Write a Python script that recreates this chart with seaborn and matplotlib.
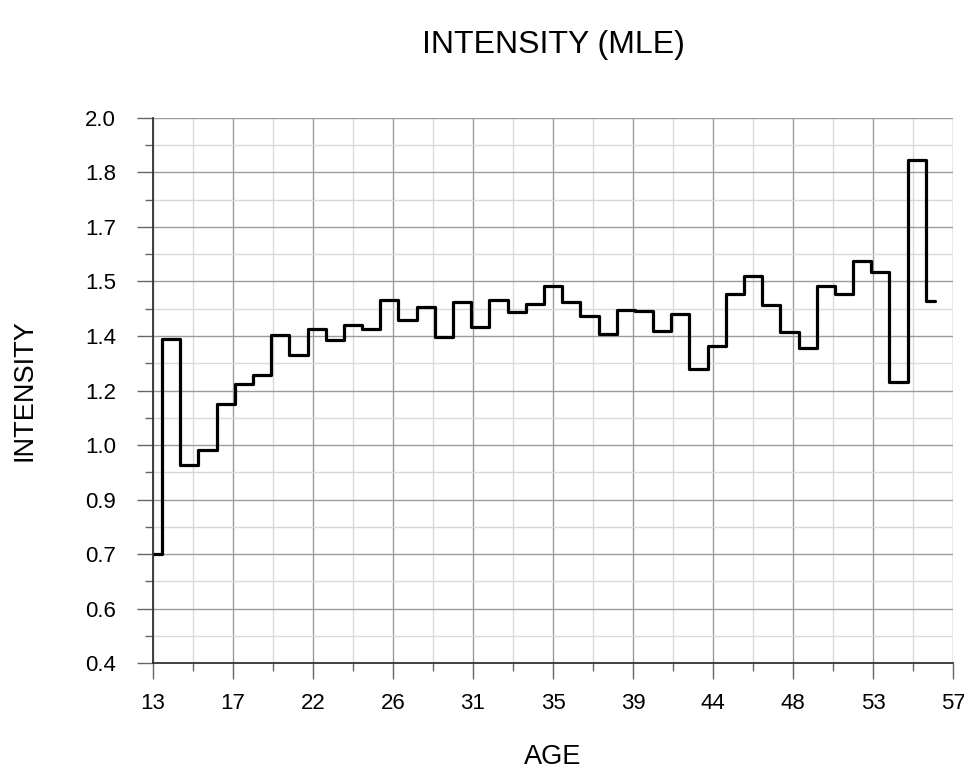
import numpy as np
import pandas as pd
import matplotlib
matplotlib.use("Agg")
import matplotlib.pyplot as plt
from matplotlib.ticker import FixedLocator, FixedFormatter
import seaborn as sns

# Age groups and estimated intensity (maximum likelihood)
ages = list(range(13, 57))
intensity = [
    0.72, 1.35, 0.98, 1.025, 1.16, 1.22, 1.245, 1.363, 1.304, 1.382,
    1.348, 1.391, 1.382, 1.467, 1.408, 1.446, 1.356, 1.459, 1.385, 1.465,
    1.431, 1.454, 1.508, 1.460, 1.419, 1.366, 1.436, 1.433, 1.374, 1.424,
    1.262, 1.331, 1.482, 1.536, 1.451, 1.373, 1.326, 1.508, 1.482, 1.580,
    1.548, 1.225, 1.876, 1.463,
]

x_tick_labels = ["13", "17", "22", "26", "31", "35", "39", "44", "48", "53", "57"]
y_tick_labels = ["0.4", "0.6", "0.7", "0.9", "1.0", "1.2", "1.4", "1.5", "1.7", "1.8", "2.0"]

df = pd.DataFrame({"AGE": ages, "INTENSITY": intensity})

sns.set_theme(style="white")
plt.rcParams["font.family"] = ["Liberation Sans", "DejaVu Sans"]
plt.rcParams["text.color"] = "black"
plt.rcParams["axes.labelcolor"] = "black"

fig = plt.figure(figsize=(9.64, 7.71), dpi=100)
ax = fig.add_axes([0.1587, 0.140, 0.830, 0.707])

sns.lineplot(data=df, x="AGE", y="INTENSITY", ax=ax, color="black",
             linewidth=2.3, drawstyle="steps-mid", estimator=None)

x_min, x_max = 13, 57
y_min, y_max = 0.4, 2.0
ax.set_xlim(x_min, x_max)
ax.set_ylim(y_min, y_max)

x_major = np.linspace(x_min, x_max, len(x_tick_labels))
y_major = np.linspace(y_min, y_max, len(y_tick_labels))
x_minor = (x_major[:-1] + x_major[1:]) / 2
y_minor = (y_major[:-1] + y_major[1:]) / 2

ax.xaxis.set_major_locator(FixedLocator(x_major))
ax.xaxis.set_major_formatter(FixedFormatter(x_tick_labels))
ax.yaxis.set_major_locator(FixedLocator(y_major))
ax.yaxis.set_major_formatter(FixedFormatter(y_tick_labels))
ax.xaxis.set_minor_locator(FixedLocator(x_minor))
ax.yaxis.set_minor_locator(FixedLocator(y_minor))

ax.grid(True, which="major", color="#9c9c9c", linewidth=1.0, zorder=0)
ax.grid(True, which="minor", color="#d9d9d9", linewidth=1.0, zorder=0)
ax.set_axisbelow(True)

for side in ("top", "right"):
    ax.spines[side].set_visible(False)
for side in ("left", "bottom"):
    ax.spines[side].set_color("#333333")
    ax.spines[side].set_linewidth(1.3)

ax.tick_params(which="major", direction="out", length=11.5, width=1.0,
               color="#666666", labelsize=16, labelcolor="black",
               bottom=True, left=True)
ax.tick_params(axis="x", which="major", pad=10)
ax.tick_params(axis="y", which="major", pad=15)
ax.tick_params(which="minor", direction="out", length=6, width=1.0,
               color="#666666", bottom=True, left=True)

ax.set_xlabel("AGE", fontsize=19.5)
ax.set_ylabel("INTENSITY", fontsize=19.5)
ax.xaxis.set_label_coords(0.5, -0.148)
ax.yaxis.set_label_coords(-0.144, 0.5)
ax.set_title("INTENSITY (MLE)", fontsize=23, pad=47, color="black")

fig.savefig("out.png", dpi=100)
